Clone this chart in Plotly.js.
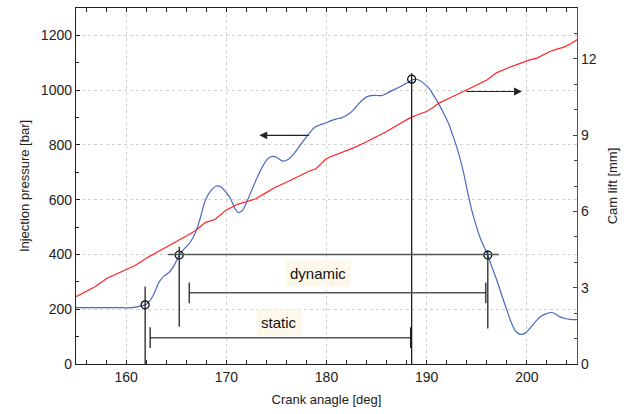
<!DOCTYPE html>
<html>
<head>
<meta charset="utf-8">
<script src="https://cdn.plot.ly/plotly-3.0.1.min.js"></script>
<style>html,body{margin:0;padding:0;background:#fff;}#chart{width:626px;height:414px;}</style>
</head>
<body>
<div id="chart"></div>
<script>
// Injection pressure (left axis, bar) vs crank angle (deg)
const pressAngle = [155,157,159,160,161,161.5,161.9,162.3,162.7,163.3,163.8,164.3,164.8,165.3,165.8,166.3,166.8,167.3,167.9,168.5,169.0,169.4,169.9,170.4,170.9,171.2,171.6,172.1,172.6,173.1,173.6,174.1,174.6,175.0,175.6,176.2,176.8,177.4,177.9,178.4,178.9,179.4,179.9,180.4,181.0,181.5,182.1,182.7,183.2,183.7,184.2,184.8,185.5,186.1,186.7,187.2,187.7,188.2,188.5,188.9,189.3,189.8,190.3,190.7,191.2,191.7,192.2,192.6,193.0,193.4,193.7,194.1,194.5,194.9,195.3,195.7,196.1,196.5,197.0,197.5,198.0,198.4,198.8,199.2,199.5,199.9,200.3,200.8,201.3,201.9,202.5,202.9,203.3,203.8,204.3,205.0];
const pressure = [206,206,206,205,208,212,216,228,250,300,322,335,360,397,420,440,470,520,597,635,650,648,630,605,565,553,560,597,640,683,720,748,758,755,741,748,770,800,825,848,866,874,880,888,895,899,910,928,950,968,978,981,980,990,1001,1010,1020,1030,1037,1040,1035,1022,1004,980,950,915,877,835,792,740,695,625,561,510,464,430,397,355,306,250,197,155,124,110,108,115,130,152,172,183,188,182,172,166,163,162];

// Cam lift (right axis, mm) vs crank angle (deg)
const camAngle = [155,156,156.9,158.1,159.5,160.9,162.1,162.9,164.1,165.3,166.1,166.9,167.9,168.9,169.9,171.1,172.0,172.9,173.9,174.9,175.9,176.9,177.6,178.3,178.9,179.4,179.9,180.4,180.9,181.7,182.7,183.7,184.8,186.0,187.1,188.3,189.2,190.0,190.6,191.2,192.4,193.7,194.8,196.0,196.5,197.0,198.1,199.3,200.2,201.0,201.6,202.3,203.0,203.7,204.4,205.0];
const camLift = [2.65,2.85,3.04,3.37,3.62,3.87,4.18,4.35,4.62,4.88,5.05,5.24,5.56,5.69,6.03,6.28,6.40,6.49,6.72,6.95,7.13,7.30,7.45,7.59,7.67,7.85,8.05,8.15,8.22,8.35,8.50,8.68,8.90,9.14,9.40,9.67,9.82,9.93,10.08,10.26,10.48,10.71,10.93,11.17,11.30,11.46,11.64,11.83,11.95,12.03,12.15,12.29,12.38,12.46,12.60,12.75];

// Marked points (open circles): static start, dynamic start, peak, dynamic end
const markAngle = [161.9, 165.3, 188.5, 196.1];
const markPressure = [216, 398, 1040, 398];

// Timing annotation values
const staticStart = 161.9, dynStart = 165.3, peakAngle = 188.5, dynEnd = 196.1;
const openPressure = 400;             // dynamic opening pressure level
const dynBracket = {from: 166.3, to: 195.9, level: 260};
const staticBracket = {from: 162.4, to: 188.4, level: 96};
const labels = ["dynamic", "static"];
const labelPos = [[179.2, 330], [175.3, 150]];
const arrowLeft = {from: 178.4, to: 173.3, level: 835};
const arrowRight = {from: 193.8, to: 199.5, level: 995};

const FONT = "Liberation Sans, Arial, sans-serif";
const blk = "#111";
const brk = "#555";

const traces = [
  {x: pressAngle, y: pressure, type: "scatter", mode: "lines", line: {color: "#4a68c0", width: 1.2, shape: "spline", smoothing: 0.6}, yaxis: "y", hoverinfo: "skip"},
  {x: camAngle, y: camLift, type: "scatter", mode: "lines", line: {color: "#ff2222", width: 1.2}, yaxis: "y2", hoverinfo: "skip"},
  {x: markAngle, y: markPressure, type: "scatter", mode: "markers", marker: {symbol: "circle-open", size: 8, color: "#000", line: {width: 1.2}}, yaxis: "y", hoverinfo: "skip"}
];

function seg(x0, y0, x1, y1, color, w) {
  return {type: "line", xref: "x", yref: "y", x0: x0, y0: y0, x1: x1, y1: y1, line: {color: color, width: w}};
}
const tick = 38;
const shapes = [
  seg(staticStart, 0, staticStart, 283, blk, 1.2),
  seg(dynStart, 136, dynStart, 428, blk, 1.2),
  seg(peakAngle, 0, peakAngle, 1062, blk, 1.2),
  seg(dynEnd, 130, dynEnd, 415, blk, 1.2),
  seg(164.2, openPressure, 197.2, openPressure, brk, 1.5),
  seg(dynBracket.from, dynBracket.level, dynBracket.to, dynBracket.level, brk, 1.5),
  seg(dynBracket.from, dynBracket.level - tick, dynBracket.from, dynBracket.level + tick, blk, 1.2),
  seg(dynBracket.to, dynBracket.level - tick, dynBracket.to, dynBracket.level + tick, blk, 1.2),
  seg(staticBracket.from, staticBracket.level, staticBracket.to, staticBracket.level, brk, 1.5),
  seg(staticBracket.from, staticBracket.level - tick, staticBracket.from, staticBracket.level + tick, blk, 1.2),
  seg(staticBracket.to, staticBracket.level - tick, staticBracket.to, staticBracket.level + tick, blk, 1.2)
];

const annotations = [
  {x: labelPos[0][0], y: labelPos[0][1], xref: "x", yref: "y", text: labels[0], showarrow: false, font: {family: FONT, size: 15, color: "#111"}, bgcolor: "#fdf8ea", borderpad: 4},
  {x: labelPos[1][0], y: labelPos[1][1], xref: "x", yref: "y", text: labels[1], showarrow: false, font: {family: FONT, size: 15, color: "#111"}, bgcolor: "#fdf8ea", borderpad: 4},
  {x: arrowLeft.to, y: arrowLeft.level, ax: arrowLeft.from, ay: arrowLeft.level, xref: "x", yref: "y", axref: "x", ayref: "y", text: "", showarrow: true, arrowhead: 2, arrowsize: 1.3, arrowwidth: 1.2, arrowcolor: "#222"},
  {x: arrowRight.to, y: arrowRight.level, ax: arrowRight.from, ay: arrowRight.level, xref: "x", yref: "y", axref: "x", ayref: "y", text: "", showarrow: true, arrowhead: 2, arrowsize: 1.3, arrowwidth: 1.2, arrowcolor: "#222"}
];

const layout = {
  width: 626, height: 414,
  margin: {l: 76, r: 49, t: 8, b: 50},
  paper_bgcolor: "#fff", plot_bgcolor: "#fff",
  showlegend: false,
  font: {family: FONT, size: 14, color: "#222"},
  xaxis: {
    range: [155, 205], dtick: 10, tick0: 160,
    ticks: "inside", ticklen: 4, tickcolor: "#222",
    showline: true, linecolor: "#222", linewidth: 1.2, mirror: "allticks",
    showgrid: true, gridcolor: "#d2d2d2", griddash: "dot", gridwidth: 1,
    zeroline: false,
    minor: {dtick: 2, ticks: "inside", ticklen: 3, tickcolor: "#222", showgrid: false},
    tickfont: {family: FONT, size: 14, color: "#222"},
    title: {text: "Crank anagle [deg]", font: {family: FONT, size: 13, color: "#222"}, standoff: 10}
  },
  yaxis: {
    range: [0, 1300], dtick: 200,
    ticks: "inside", ticklen: 4, tickcolor: "#222",
    showline: true, linecolor: "#222", linewidth: 1.2,
    showgrid: true, gridcolor: "#d2d2d2", griddash: "dot", gridwidth: 1,
    zeroline: false,
    minor: {dtick: 100, ticks: "inside", ticklen: 3, tickcolor: "#222", showgrid: false},
    tickfont: {family: FONT, size: 14, color: "#222"},
    title: {text: "Injection pressure [bar]", font: {family: FONT, size: 13, color: "#222"}, standoff: 8}
  },
  yaxis2: {
    overlaying: "y", side: "right",
    range: [0, 14], dtick: 3,
    ticks: "inside", ticklen: 4, tickcolor: "#444",
    showline: true, linecolor: "#555", linewidth: 1.2,
    showgrid: false, zeroline: false,
    minor: {dtick: 1, ticks: "inside", ticklen: 3, tickcolor: "#444", showgrid: false},
    tickfont: {family: FONT, size: 14, color: "#222"},
    title: {text: "Cam lift [mm]", font: {family: FONT, size: 13, color: "#222"}, standoff: 12}
  },
  shapes: shapes,
  annotations: annotations
};

Plotly.newPlot("chart", traces, layout, {staticPlot: true, displayModeBar: false});
</script>
</body>
</html>
